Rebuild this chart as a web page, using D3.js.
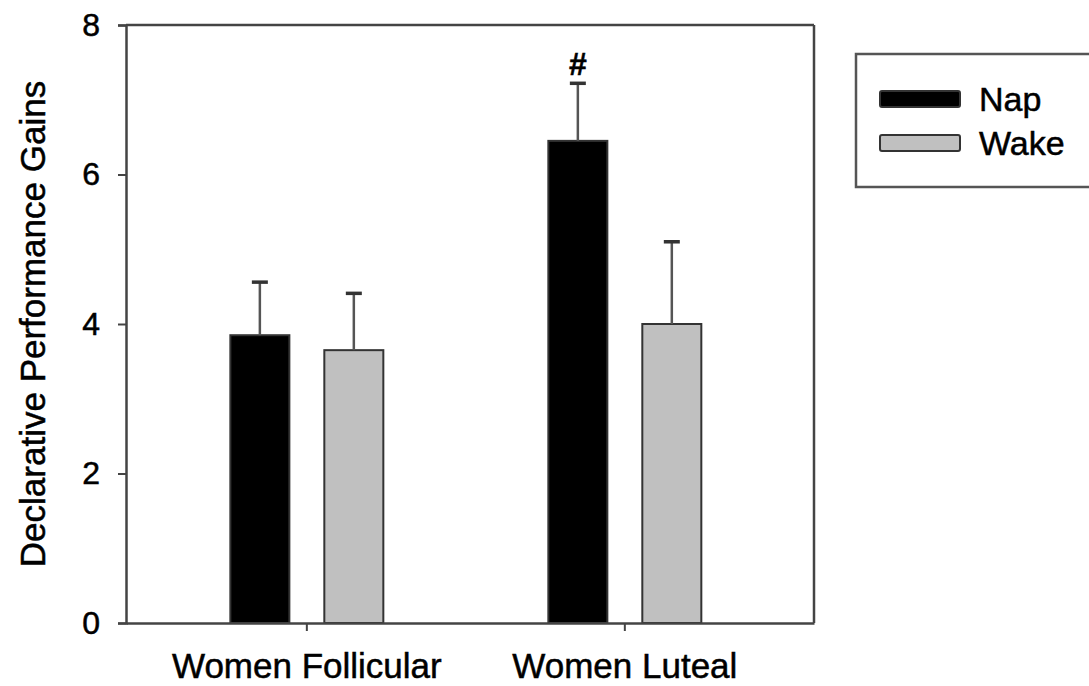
<!DOCTYPE html>
<html>
<head>
<meta charset="utf-8">
<script src="https://cdn.jsdelivr.net/npm/d3@7"></script>
<style>
  body { margin: 0; background: #fff; }
  svg { display: block; font-family: "Liberation Sans", Arial, sans-serif; }
  text { stroke: #000; stroke-width: 0.5px; }
</style>
</head>
<body>
<div id="chart"></div>
<script>
// data
const categories = ["Women Follicular", "Women Luteal"];
const seriesNames = ["Nap", "Wake"];
const napMeans = [3.85, 6.45];
const napSE = [0.71, 0.77];
const wakeMeans = [3.65, 4.00];
const wakeSE = [0.76, 1.10];
const yTicks = [0, 2, 4, 6, 8];
const marks = ["", "#"]; // significance marks above Nap bars

const W = 1089, H = 686;
const plotL = 126, plotR = 814, plotT = 25, plotB = 623;
const colors = { Nap: "#000000", Wake: "#c0c0c0" };

const svg = d3.select("#chart").append("svg")
  .attr("width", W)
  .attr("height", H);

const y = d3.scaleLinear().domain([0, 8]).range([plotB, plotT]);

const x = d3.scaleBand()
  .domain(categories)
  .range([plotL, plotR])
  .paddingInner(0)
  .paddingOuter(0.0818)
  .align(0.42);

const xs = d3.scaleBand()
  .domain(seriesNames)
  .range([0, x.bandwidth()])
  .paddingInner(0.372)
  .paddingOuter(0.878);

// build rows from the arrays
const rows = [];
categories.forEach((c, i) => {
  rows.push({ cat: c, s: "Nap", v: napMeans[i], e: napSE[i], mark: marks[i] });
  rows.push({ cat: c, s: "Wake", v: wakeMeans[i], e: wakeSE[i], mark: "" });
});

// frame: top and right lines
svg.append("line")
  .attr("x1", plotL).attr("x2", plotR).attr("y1", plotT).attr("y2", plotT)
  .attr("stroke", "#444").attr("stroke-width", 2.5);
svg.append("line")
  .attr("x1", plotR).attr("x2", plotR).attr("y1", plotT).attr("y2", plotB)
  .attr("stroke", "#444").attr("stroke-width", 2.5);

// bars
const g = svg.append("g");
g.selectAll("rect.bar")
  .data(rows)
  .enter().append("rect")
  .attr("class", "bar")
  .attr("x", d => x(d.cat) + xs(d.s))
  .attr("width", xs.bandwidth())
  .attr("y", d => y(d.v))
  .attr("height", d => y(0) - y(d.v))
  .attr("fill", d => colors[d.s])
  .attr("stroke", "#333")
  .attr("stroke-width", 2);

// error bars (upward only)
g.selectAll("line.err")
  .data(rows)
  .enter().append("line")
  .attr("class", "err")
  .attr("x1", d => x(d.cat) + xs(d.s) + xs.bandwidth() / 2)
  .attr("x2", d => x(d.cat) + xs(d.s) + xs.bandwidth() / 2)
  .attr("y1", d => y(d.v))
  .attr("y2", d => y(d.v + d.e))
  .attr("stroke", "#555")
  .attr("stroke-width", 2.5);

g.selectAll("line.cap")
  .data(rows)
  .enter().append("line")
  .attr("class", "cap")
  .attr("x1", d => x(d.cat) + xs(d.s) + xs.bandwidth() / 2 - 8)
  .attr("x2", d => x(d.cat) + xs(d.s) + xs.bandwidth() / 2 + 8)
  .attr("y1", d => y(d.v + d.e))
  .attr("y2", d => y(d.v + d.e))
  .attr("stroke", "#333")
  .attr("stroke-width", 3.5);

g.selectAll("text.mark")
  .data(rows.filter(d => d.mark))
  .enter().append("text")
  .attr("class", "mark")
  .attr("x", d => x(d.cat) + xs(d.s) + xs.bandwidth() / 2)
  .attr("y", d => y(d.v + d.e) - 8)
  .attr("text-anchor", "middle")
  .attr("font-size", 32)
  .attr("font-weight", "bold")
  .text(d => d.mark);

// y axis
const yAxis = svg.append("g")
  .attr("transform", `translate(${plotL},0)`)
  .call(d3.axisLeft(y).tickValues(yTicks).tickSize(8).tickPadding(18).tickFormat(d3.format("d")));
yAxis.select(".domain").attr("stroke", "#444").attr("stroke-width", 2.5);
yAxis.selectAll(".tick line").attr("stroke", "#444").attr("stroke-width", 2);
yAxis.selectAll(".tick text").attr("font-size", 32).attr("fill", "#000")
  .attr("font-family", "Liberation Sans, Arial, sans-serif");

// x axis
const xAxis = svg.append("g")
  .attr("transform", `translate(0,${plotB})`)
  .call(d3.axisBottom(x).tickSize(8).tickPadding(22).tickSizeOuter(0));
xAxis.select(".domain").attr("stroke", "#444").attr("stroke-width", 2.5);
xAxis.selectAll(".tick line").attr("stroke", "#444").attr("stroke-width", 2);
xAxis.selectAll(".tick text").attr("font-size", 35).attr("fill", "#000")
  .attr("font-family", "Liberation Sans, Arial, sans-serif");

// y axis title
svg.append("text")
  .attr("transform", `translate(45,${(plotT + plotB) / 2}) rotate(-90)`)
  .attr("text-anchor", "middle")
  .attr("font-size", 35)
  .attr("fill", "#000")
  .text("Declarative Performance Gains");

// legend
const legend = svg.append("g");
legend.append("rect")
  .attr("x", 856).attr("y", 54)
  .attr("width", 260).attr("height", 133)
  .attr("fill", "#fff").attr("stroke", "#555").attr("stroke-width", 2.5);

const ly = d3.scalePoint().domain(seriesNames).range([99, 143]);
const li = legend.selectAll("g.item")
  .data(seriesNames)
  .enter().append("g").attr("class", "item");
li.append("rect")
  .attr("x", 880).attr("y", d => ly(d) - 8)
  .attr("width", 80).attr("height", 16)
  .attr("rx", 2)
  .attr("fill", d => colors[d])
  .attr("stroke", "#333").attr("stroke-width", 2);
li.append("text")
  .attr("x", 979).attr("y", d => ly(d) + 12)
  .attr("font-size", 34)
  .attr("fill", "#000")
  .text(d => d);
</script>
</body>
</html>
